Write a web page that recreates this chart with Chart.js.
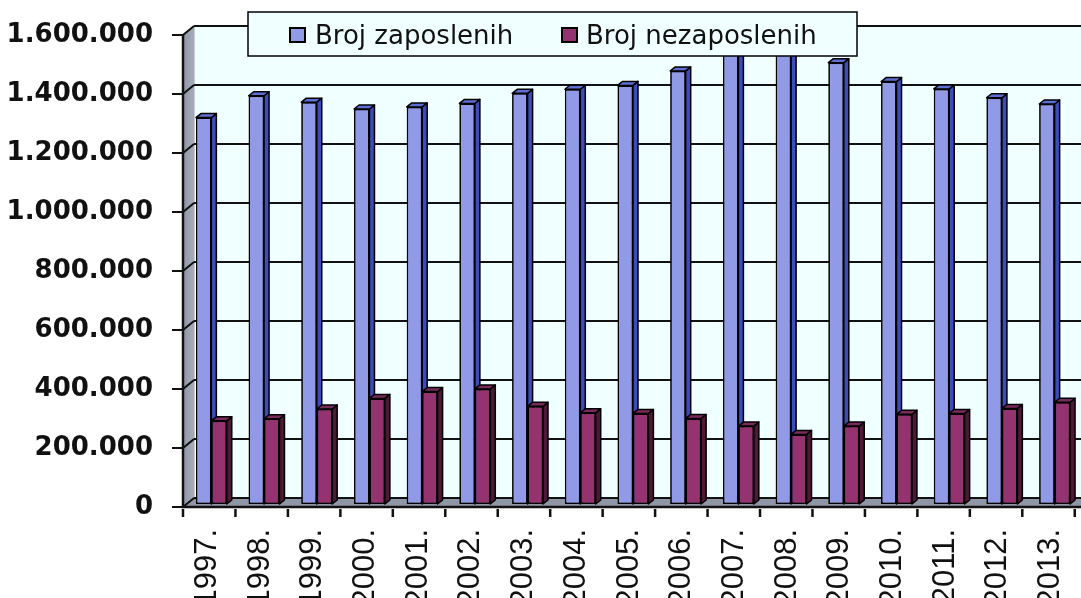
<!DOCTYPE html>
<html>
<head>
<meta charset="utf-8">
<script src="https://cdn.jsdelivr.net/npm/chart.js@4.4.1/dist/chart.umd.min.js"></script>
<style>
    html, body { margin: 0; padding: 0; background: #ffffff; }
    #wrap { width: 1081px; height: 598px; }
</style>
</head>
<body>
<div id="wrap"><canvas id="grafik" width="1081" height="598"></canvas></div>
<script>
var godine = ['1997.', '1998.', '1999.', '2000.', '2001.', '2002.', '2003.', '2004.', '2005.',
    '2006.', '2007.', '2008.', '2009.', '2010.', '2011.', '2012.', '2013.'];

var zaposleni = [1310000, 1384000, 1362000, 1339000, 1346000, 1358000, 1392000, 1406000, 1419000,
    1468000, 1530000, 1560000, 1496000, 1432000, 1407000, 1377000, 1356000];

var nezaposleni = [282000, 289000, 322000, 358000, 381000, 390000, 331000, 309000, 307000,
    290000, 264000, 236000, 264000, 304000, 307000, 324000, 345000];

var yTicks = [0, 200000, 400000, 600000, 800000, 1000000, 1200000, 1400000, 1600000];
var yTickLabels = ['0', '200.000', '400.000', '600.000', '800.000', '1.000.000', '1.200.000', '1.400.000', '1.600.000'];

var nazivi = ['Broj zaposlenih', 'Broj nezaposlenih'];

// boje: prednja strana, bok, vrh
var boje = [
    { front: '#919ae6', side: '#3d4cbc', top: '#5d6fd4' },
    { front: '#943370', side: '#4e1836', top: '#7a2a5c' }
];

// 3D pomaci (prednja ravnina / zadnji zid u odnosu na stupce)
var PREDNJI_DX = -2, PREDNJI_DY = 3;
var ZADNJI_DX = 9, ZADNJI_DY = -6;
var DUBINA_X = 5, DUBINA_Y = -4;

function poligon(ctx, tocke, fill) {
    ctx.beginPath();
    ctx.moveTo(tocke[0][0], tocke[0][1]);
    for (var i = 1; i < tocke.length; i++) {
        ctx.lineTo(tocke[i][0], tocke[i][1]);
    }
    ctx.closePath();
    ctx.fillStyle = fill;
    ctx.fill();
    ctx.stroke();
}

var zidovi = {
    id: 'zidovi',
    beforeDatasetsDraw: function (chart) {
        var ctx = chart.ctx;
        var area = chart.chartArea;
        var y = chart.scales.y;
        var W = chart.width;

        var fx = area.left + PREDNJI_DX;
        var bx = area.left + ZADNJI_DX;
        var yTop = y.getPixelForValue(yTicks[yTicks.length - 1]);
        var y0 = y.getPixelForValue(0);

        ctx.save();
        // zadnji zid
        ctx.fillStyle = '#f0ffff';
        ctx.fillRect(bx, yTop + ZADNJI_DY, W - bx, y0 - yTop);

        // lijevi zid
        var grad = ctx.createLinearGradient(fx, 0, bx, 0);
        grad.addColorStop(0, '#8e95a6');
        grad.addColorStop(1, '#a9aebb');
        ctx.strokeStyle = '#9ba1b0';
        ctx.lineWidth = 1;
        poligon(ctx, [[fx, yTop + PREDNJI_DY], [bx, yTop + ZADNJI_DY], [bx, y0 + ZADNJI_DY], [fx, y0 + PREDNJI_DY]], grad);

        // pod
        poligon(ctx, [[fx, y0 + PREDNJI_DY], [bx, y0 + ZADNJI_DY], [W + 5, y0 + ZADNJI_DY], [W + 5, y0 + PREDNJI_DY]], '#8f96a6');

        // mreza na zadnjem zidu
        ctx.strokeStyle = '#111111';
        ctx.lineWidth = 2;
        yTicks.forEach(function (v) {
            var py = y.getPixelForValue(v);
            ctx.beginPath();
            ctx.moveTo(bx, py + ZADNJI_DY);
            ctx.lineTo(W, py + ZADNJI_DY);
            ctx.stroke();
            // kosa crta na lijevom zidu
            ctx.beginPath();
            ctx.moveTo(fx, py + PREDNJI_DY);
            ctx.lineTo(bx, py + ZADNJI_DY);
            ctx.stroke();
            // oznaka na osi
            ctx.beginPath();
            ctx.moveTo(fx - 11, py + PREDNJI_DY);
            ctx.lineTo(fx, py + PREDNJI_DY);
            ctx.stroke();
        });

        // prednja os y
        ctx.lineWidth = 2.5;
        ctx.beginPath();
        ctx.moveTo(fx, yTop + PREDNJI_DY);
        ctx.lineTo(fx, y0 + PREDNJI_DY);
        ctx.lineTo(W, y0 + PREDNJI_DY);
        ctx.stroke();

        // oznake kategorija na osi x
        ctx.lineWidth = 2.5;
        var korak = (area.right - area.left) / godine.length;
        for (var i = 0; i <= godine.length; i++) {
            var px = area.left + i * korak + PREDNJI_DX - i * 0.25;
            ctx.beginPath();
            ctx.moveTo(px, y0 + 5);
            ctx.lineTo(px, y0 + 13);
            ctx.stroke();
        }
        ctx.restore();
    },
    afterDatasetsDraw: function (chart) {
        var ctx = chart.ctx;
        ctx.save();
        ctx.lineJoin = 'round';
        for (var d = 0; d < chart.data.datasets.length; d++) {
            var meta = chart.getDatasetMeta(d);
            meta.data.forEach(function (el) {
                var p = el.getProps(['x', 'y', 'base', 'width'], true);
                var l = p.x - p.width / 2;
                var r = p.x + p.width / 2;
                el.draw(ctx);
                ctx.strokeStyle = '#000000';
                ctx.lineWidth = 1.5;
                poligon(ctx, [[r, p.y], [r + DUBINA_X, p.y + DUBINA_Y], [r + DUBINA_X, p.base + DUBINA_Y], [r, p.base]], boje[d].side);
                poligon(ctx, [[l, p.y], [l + DUBINA_X, p.y + DUBINA_Y], [r + DUBINA_X, p.y + DUBINA_Y], [r, p.y]], boje[d].top);
            });
        }
        ctx.restore();
    },
    afterDraw: function (chart) {
        // legenda
        var ctx = chart.ctx;
        ctx.save();
        ctx.fillStyle = '#f0ffff';
        ctx.fillRect(248, 12, 609, 44);
        ctx.strokeStyle = '#000000';
        ctx.lineWidth = 1.5;
        ctx.strokeRect(248, 12, 609, 44);

        ctx.font = '26px "DejaVu Sans"';
        ctx.textBaseline = 'alphabetic';
        var pozicije = [[290, 315], [562, 586]];
        for (var i = 0; i < nazivi.length; i++) {
            ctx.fillStyle = boje[i].front;
            ctx.fillRect(pozicije[i][0], 28, 15, 14);
            ctx.lineWidth = 2;
            ctx.strokeRect(pozicije[i][0], 28, 15, 14);
            ctx.fillStyle = '#111111';
            ctx.fillText(nazivi[i], pozicije[i][1], 44);
        }
        ctx.restore();
    }
};

var context = document.getElementById('grafik').getContext('2d');
var grafik = new Chart(context, {
    type: 'bar',
    data: {
        labels: godine,
        datasets: [{
            label: nazivi[0],
            data: zaposleni,
            backgroundColor: boje[0].front,
            borderColor: '#000000',
            borderWidth: 1.5,
            borderSkipped: false
        }, {
            label: nazivi[1],
            data: nezaposleni,
            backgroundColor: boje[1].front,
            borderColor: '#000000',
            borderWidth: 1.5,
            borderSkipped: false
        }]
    },
    options: {
        responsive: false,
        animation: false,
        layout: {
            padding: { top: 32, right: -6, left: 0, bottom: 0 }
        },
        datasets: {
            bar: {
                categoryPercentage: 0.585,
                barPercentage: 1
            }
        },
        plugins: {
            legend: { display: false },
            tooltip: { enabled: false }
        },
        scales: {
            x: {
                grid: { display: false, drawTicks: false },
                border: { display: false },
                ticks: {
                    autoSkip: false,
                    minRotation: 90,
                    maxRotation: 90,
                    padding: 25,
                    labelOffset: -4,
                    color: '#111111',
                    font: { family: 'Liberation Sans', size: 31 }
                },
                afterFit: function (s) {
                    s.height = 94;
                    s.paddingLeft = 0;
                    s.paddingRight = 0;
                }
            },
            y: {
                min: 0,
                max: 1600000,
                grid: { display: false, drawTicks: false },
                border: { display: false },
                afterBuildTicks: function (s) {
                    s.ticks = yTicks.map(function (v) { return { value: v }; });
                },
                ticks: {
                    padding: 32,
                    labelOffset: 3,
                    color: '#111111',
                    font: { family: 'DejaVu Sans', size: 26, weight: 'bold' },
                    callback: function (v) { return yTickLabels[yTicks.indexOf(v)]; }
                },
                afterFit: function (s) {
                    s.width = 185;
                    s.paddingTop = 0;
                    s.paddingBottom = 0;
                }
            }
        }
    },
    plugins: [zidovi]
});
</script>
</body>
</html>
